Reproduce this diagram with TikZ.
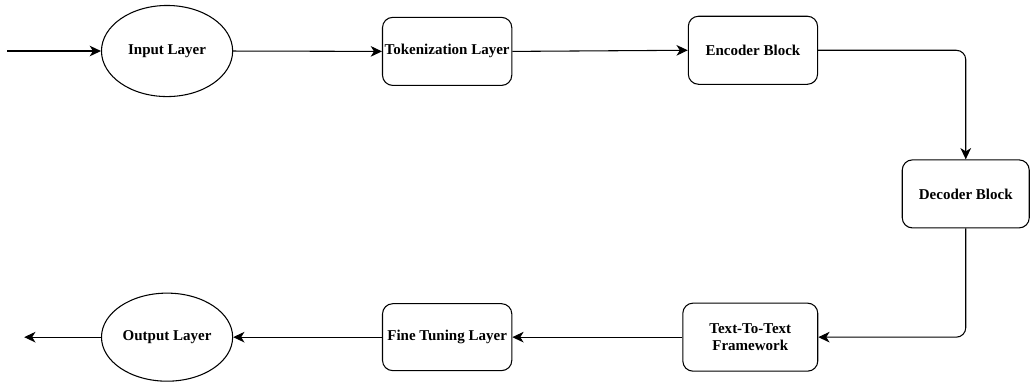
\documentclass[tikz,border=0pt]{standalone}
\usepackage{fontspec}
\setmainfont{Liberation Serif}
\usetikzlibrary{arrows.meta,positioning,shapes.geometric}

\begin{document}
\begin{tikzpicture}[
		lab/.style={font=\fontsize{11.3}{13.5}\selectfont\bfseries,align=center},
		arr/.style={-{Stealth[length=8.5pt,width=8pt,inset=2.5pt]},line width=0.8pt},
		layer/.style={lab,ellipse,draw,line width=0.8pt,minimum width=3.47cm,minimum height=2.41cm,inner sep=0pt},
		block/.style={lab,draw,rounded corners=0.27cm,line width=0.8pt,minimum width=3.42cm,minimum height=1.8cm,inner sep=0pt}
		]
		
		\useasboundingbox (0,0) rectangle (27.25,10.13);
		
		% --- Top row
		\node[layer] (input) at (4.42,8.78) {Input Layer};
		\node[block] (token) at (11.83,8.77) {Tokenization Layer};
		\node[block] (encoder) at (19.92,8.80) {Encoder Block};
		
		% --- Right column
		\node[block,minimum width=3.36cm] (decoder) at (25.55,5.00) {Decoder Block};
		
		% --- Bottom row
		\node[block,minimum width=3.57cm] (t2t) at (19.85,1.21) {Text-To-Text\\Framework};
		\node[block,minimum height=1.77cm] (finetune) at (11.83,1.21) {Fine Tuning Layer};
		\node[layer,minimum height=2.33cm] (output) at (4.42,1.21) {Output Layer};
		
		\coordinate (src) at (0.19,8.78);
		\coordinate (sink) at (0.64,1.21);
		
		% --- Connectors
		\draw[arr] (src) -- (input.west);
		\draw[arr] (input.east) -- (token.west);
		\draw[arr] (token.east) -- (encoder.west);
		\draw[arr,rounded corners=0.25cm] (encoder.east) -| (decoder.north);
		\draw[arr,rounded corners=0.25cm] (decoder.south) |- (t2t.east);
		\draw[arr] (t2t.west) -- (finetune.east);
		\draw[arr] (finetune.west) -- (output.east);
		\draw[arr] (output.west) -- (sink);
		
	\end{tikzpicture}
\end{document}
